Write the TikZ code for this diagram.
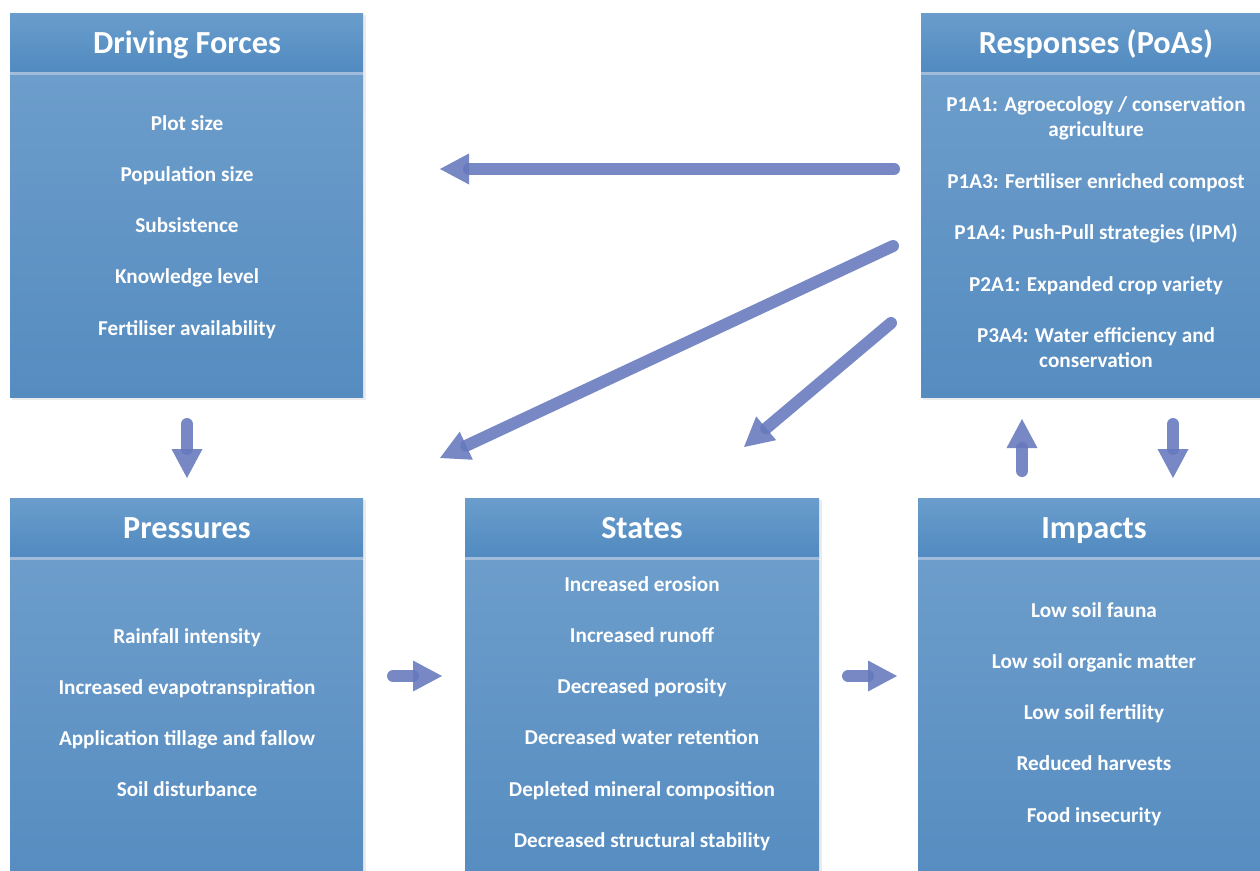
\documentclass[tikz,border=0pt]{standalone}
\usepackage{fontspec}
\setmainfont{Carlito}
\usetikzlibrary{arrows.meta}
\definecolor{hdtop}{RGB}{106,157,204}
\definecolor{hdbot}{RGB}{80,138,192}
\definecolor{bdtop}{RGB}{108,157,203}
\definecolor{bdbot}{RGB}{86,140,192}
\definecolor{sepc}{RGB}{160,188,218}
\definecolor{arrowc}{RGB}{100,120,188}
\begin{document}
\begin{tikzpicture}[x=1pt,y=-1pt,
  hdr/.style={rectangle, anchor=north west, inner sep=0pt, top color=hdtop, bottom color=hdbot, minimum height=60pt},
  bodybox/.style={rectangle, anchor=north west, inner sep=0pt, top color=bdtop, bottom color=bdbot},
  shade/.style={fill=black, opacity=0.08},
  sepline/.style={draw=sepc, line width=2.5pt},
  htxt/.style={anchor=base, inner sep=0pt, text=white, font=\bfseries\fontsize{32.2}{37}\selectfont},
  itm/.style={anchor=base, inner sep=0pt, text=white, font=\bfseries\fontsize{21.2}{25}\selectfont},
  flow/.style={draw=arrowc, line width=12pt, opacity=0.88, line cap=round, -{Triangle[length=29pt,width=31pt,line width=0pt]}}
]
\useasboundingbox (0,0) rectangle (1260,870);
\clip (0,0) rectangle (1260,870);

% shadows
\fill[shade] (12,15) rectangle (366,400);
\fill[shade] (923,15) rectangle (1262,400);
\fill[shade] (12,500) rectangle (366,880);
\fill[shade] (467,500) rectangle (822,880);
\fill[shade] (920,500) rectangle (1262,880);

% Driving Forces
\node[bodybox, minimum width=353pt, minimum height=322pt] (dfb) at (10,75) {};
\node[hdr, minimum width=353pt] (dfh) at (10,13) {};
\draw[sepline] (dfh.south west) -- (dfh.south east);
\node[htxt] (dft) at (187,53) {Driving Forces};
\node[itm] (df1) at (187,130) {Plot size};
\node[itm] (df2) at (187,181.3) {Population size};
\node[itm] (df3) at (187,232.6) {Subsistence};
\node[itm] (df4) at (187,283.9) {Knowledge level};
\node[itm] (df5) at (187,335.2) {Fertiliser availability};

% Responses
\node[bodybox, minimum width=345pt, minimum height=322pt] (rsb) at (921,75) {};
\node[hdr, minimum width=345pt] (rsh) at (921,13) {};
\draw[sepline] (rsh.south west) -- (rsh.south east);
\node[htxt] (rst) at (1096,53) {Responses (PoAs)};
\node[itm] (rs1a) at (1096,111) {P1A1: Agroecology / conservation};
\node[itm] (rs1b) at (1096,136) {agriculture};
\node[itm] (rs2) at (1096,188) {P1A3: Fertiliser enriched compost};
\node[itm] (rs3) at (1096,239) {P1A4: Push-Pull strategies (IPM)};
\node[itm] (rs4) at (1096,291) {P2A1: Expanded crop variety};
\node[itm] (rs5a) at (1096,342) {P3A4: Water efficiency and};
\node[itm] (rs5b) at (1096,367) {conservation};

% Pressures
\node[bodybox, minimum width=353pt, minimum height=325pt] (prb) at (10,560) {};
\node[hdr, minimum width=353pt] (prh) at (10,498) {};
\draw[sepline] (prh.south west) -- (prh.south east);
\node[htxt] (prt) at (187,538) {Pressures};
\node[itm] (pr1) at (187,643) {Rainfall intensity};
\node[itm] (pr2) at (187,694.3) {Increased evapotranspiration};
\node[itm] (pr3) at (187,745.6) {Application tillage and fallow};
\node[itm] (pr4) at (187,796.9) {Soil disturbance};

% States
\node[bodybox, minimum width=354pt, minimum height=325pt] (stb) at (465,560) {};
\node[hdr, minimum width=354pt] (sth) at (465,498) {};
\draw[sepline] (sth.south west) -- (sth.south east);
\node[htxt] (stt) at (642,538) {States};
\node[itm] (st1) at (642,591) {Increased erosion};
\node[itm] (st2) at (642,642.3) {Increased runoff};
\node[itm] (st3) at (642,693.6) {Decreased porosity};
\node[itm] (st4) at (642,744.9) {Decreased water retention};
\node[itm] (st5) at (642,796.2) {Depleted mineral composition};
\node[itm] (st6) at (642,847.5) {Decreased structural stability};

% Impacts
\node[bodybox, minimum width=348pt, minimum height=325pt] (imb) at (918,560) {};
\node[hdr, minimum width=348pt] (imh) at (918,498) {};
\draw[sepline] (imh.south west) -- (imh.south east);
\node[htxt] (imt) at (1094,538) {Impacts};
\node[itm] (im1) at (1094,617) {Low soil fauna};
\node[itm] (im2) at (1094,668.3) {Low soil organic matter};
\node[itm] (im3) at (1094,719.6) {Low soil fertility};
\node[itm] (im4) at (1094,770.9) {Reduced harvests};
\node[itm] (im5) at (1094,822.2) {Food insecurity};

% arrow end points
\coordinate (a1s) at (894,169);   \coordinate (a1e) at (440,169);
\coordinate (a2s) at (893,246);   \coordinate (a2e) at (440,458);
\coordinate (a3s) at (891,323);   \coordinate (a3e) at (744,447);
\coordinate (a4s) at (187,424);   \coordinate (a4e) at (187,478);
\coordinate (a5s) at (393,676);   \coordinate (a5e) at (442,676);
\coordinate (a6s) at (848,676);   \coordinate (a6e) at (897,676);
\coordinate (a7s) at (1022,471);  \coordinate (a7e) at (1022,419);
\coordinate (a8s) at (1173,424);  \coordinate (a8e) at (1173,478);

\draw[flow] (a1s) -- (a1e);
\draw[flow] (a2s) -- (a2e);
\draw[flow] (a3s) -- (a3e);
\draw[flow] (a4s) -- (a4e);
\draw[flow] (a5s) -- (a5e);
\draw[flow] (a6s) -- (a6e);
\draw[flow] (a7s) -- (a7e);
\draw[flow] (a8s) -- (a8e);
\end{tikzpicture}
\end{document}
